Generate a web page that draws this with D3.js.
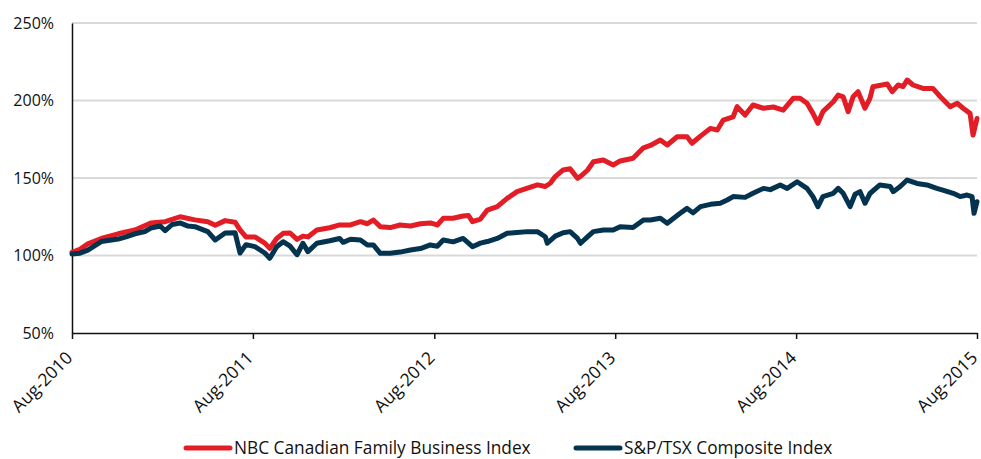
<!DOCTYPE html>
<html>
<head>
<meta charset="utf-8">
<script src="https://cdn.jsdelivr.net/npm/d3@7"></script>
<style>
  body { margin: 0; background: #fff; }
  text { font-family: "Open Sans", sans-serif; fill: #111; }
</style>
</head>
<body>
<svg id="graph"></svg>
<script>
// tick labels
var yTicks = [50, 100, 150, 200, 250]
var xTickDates = ["2010-08-01", "2011-08-01", "2012-08-01", "2013-08-01", "2014-08-01", "2015-08-01"]
var seriesNames = ["NBC Canadian Family Business Index", "S&P/TSX Composite Index"]
var seriesColors = ["#e31d26", "#03334f"]

// NBC Canadian Family Business Index (% of start)
var nbcDates = ["2010-08-01","2010-08-17","2010-09-02","2010-09-29","2010-11-02","2010-12-06","2011-01-07","2011-02-05","2011-03-07","2011-04-06","2011-05-02","2011-05-17","2011-06-06","2011-06-26","2011-07-06","2011-07-18","2011-08-05","2011-08-25","2011-09-04","2011-09-18","2011-10-01","2011-10-15","2011-10-29","2011-11-10","2011-11-20","2011-12-08","2012-01-03","2012-01-23","2012-02-14","2012-03-05","2012-03-19","2012-03-31","2012-04-14","2012-05-04","2012-05-24","2012-06-14","2012-07-04","2012-07-24","2012-08-07","2012-08-19","2012-09-08","2012-09-28","2012-10-09","2012-10-17","2012-11-02","2012-11-16","2012-12-06","2012-12-26","2013-01-15","2013-02-05","2013-02-25","2013-03-13","2013-03-23","2013-04-02","2013-04-18","2013-05-02","2013-05-17","2013-05-23","2013-06-06","2013-06-18","2013-07-08","2013-07-28","2013-08-11","2013-09-06","2013-09-27","2013-10-11","2013-10-31","2013-11-14","2013-12-04","2013-12-24","2014-01-03","2014-01-20","2014-02-09","2014-02-23","2014-03-07","2014-03-27","2014-04-04","2014-04-20","2014-05-06","2014-05-27","2014-06-16","2014-07-06","2014-07-26","2014-08-09","2014-08-23","2014-09-04","2014-09-14","2014-09-24","2014-10-15","2014-10-25","2014-11-04","2014-11-14","2014-11-24","2014-12-04","2014-12-18","2014-12-28","2015-01-03","2015-02-01","2015-02-11","2015-02-23","2015-03-05","2015-03-13","2015-03-25","2015-04-14","2015-05-04","2015-05-19","2015-06-08","2015-06-22","2015-07-04","2015-07-18","2015-07-24","2015-08-01"]
var nbcValues = [102,104,107.5,111,114,116.5,121,121.8,125,123,121.8,119.5,122.5,121.5,116.5,112,112,108,104.6,111,114.3,114.5,110.4,112.5,112,116.4,117.9,119.7,119.7,121.8,120.5,122.9,118.6,118,119.7,119,120.5,121,119.7,124,124,125.5,125.8,121.8,123.5,129.3,131.5,136.9,141.2,143.4,145.6,144.5,146.6,150.9,155.2,156,149.8,151,155,160.5,161.6,158.4,161,162.7,169.5,171,174.5,171.3,176.6,176.6,172.4,177,182,181,187.4,189.5,196,190.6,197.1,195,195.8,193.8,201.4,201.4,198.2,191.7,185.3,192.8,199.2,203.5,202.4,192.8,202.4,205.7,195,201.4,208.9,210.6,205.7,210,209,213.2,210,207.8,207.8,202.4,196,198.2,195,191.7,177.7,188.4]

// S&P/TSX Composite Index (% of start)
var tsxDates = ["2010-08-01","2010-08-17","2010-09-02","2010-09-29","2010-11-02","2010-11-18","2010-12-06","2010-12-26","2011-01-07","2011-01-26","2011-02-05","2011-02-19","2011-03-07","2011-03-23","2011-04-06","2011-05-02","2011-05-17","2011-06-06","2011-06-26","2011-07-06","2011-07-18","2011-08-05","2011-08-25","2011-09-04","2011-09-18","2011-10-01","2011-10-15","2011-10-29","2011-11-10","2011-11-20","2011-12-08","2012-01-03","2012-01-23","2012-01-30","2012-02-14","2012-03-05","2012-03-19","2012-03-31","2012-04-14","2012-05-04","2012-05-24","2012-06-14","2012-07-04","2012-07-24","2012-08-07","2012-08-19","2012-09-08","2012-09-28","2012-10-09","2012-10-17","2012-11-02","2012-11-16","2012-12-06","2012-12-26","2013-01-15","2013-02-05","2013-02-25","2013-03-13","2013-03-17","2013-04-02","2013-04-18","2013-05-02","2013-05-17","2013-05-23","2013-06-06","2013-06-18","2013-07-08","2013-07-28","2013-08-11","2013-09-06","2013-09-27","2013-10-11","2013-10-31","2013-11-14","2013-12-10","2013-12-24","2014-01-05","2014-01-20","2014-02-09","2014-03-01","2014-03-15","2014-03-27","2014-04-20","2014-05-06","2014-05-27","2014-06-10","2014-06-30","2014-07-14","2014-08-03","2014-08-23","2014-09-04","2014-09-14","2014-09-24","2014-10-15","2014-10-25","2014-11-04","2014-11-18","2014-11-28","2014-12-08","2014-12-18","2014-12-28","2015-01-17","2015-02-07","2015-02-13","2015-02-27","2015-03-13","2015-04-02","2015-04-22","2015-05-12","2015-05-24","2015-06-14","2015-06-28","2015-07-12","2015-07-22","2015-07-26","2015-08-01"]
var tsxValues = [101,101.5,103.5,109,110.6,112,114,115.5,117.7,119,116,120,121,119,118.6,115.4,110,114.5,114.7,101.6,107,105.7,101.6,98.2,105.7,108.9,106,100.5,107.9,102.5,107.9,109.5,111,108.5,110.5,110,106.8,106.8,101.4,101.4,102.2,103.5,104.5,106.8,106,110,108.8,111,108,105.7,108,109,111,114.3,114.8,115.4,115.4,112.1,107.9,112.5,114.7,115.4,111,107.9,112,115.4,116.4,116.4,118.6,118,122.9,122.9,124,120.8,127.2,130.4,127.5,131.5,133,133.7,135.8,138,137.5,140.1,143.3,142.5,145.5,143.3,147.6,143.3,138,131.5,138,140.1,143.3,140.1,131.5,139.5,141.2,133.7,140,145.5,144.5,141.2,144.5,148.7,146.5,145.5,143.3,142.2,140.1,138,139,138,127.2,134.7]

var parseDate = d3.timeParse("%Y-%m-%d")
var fmtDate = d3.timeFormat("%b-%Y")

var screen = {width: 981, height: 459}
var margin = {left: 72, right: 4, top: 23, bottom: 126}

var svg = d3.select("#graph")
    .attr("width", screen.width)
    .attr("height", screen.height)

var xScale = d3.scaleTime()
    .domain([parseDate(xTickDates[0]), parseDate(xTickDates[xTickDates.length - 1])])
    .range([margin.left, screen.width - margin.right])
var yScale = d3.scaleLinear()
    .domain([50, 250])
    .range([screen.height - margin.bottom, margin.top])

// gridlines
svg.append("g")
    .selectAll("line")
    .data(yTicks.slice(1))
    .enter()
    .append("line")
    .attr("x1", margin.left)
    .attr("x2", screen.width - margin.right)
    .attr("y1", function (d) { return yScale(d) })
    .attr("y2", function (d) { return yScale(d) })
    .attr("stroke", "#d9d9d9")
    .attr("stroke-width", 2)

// y axis labels (no ticks)
var yAxis = svg.append("g")
    .attr("transform", "translate(" + margin.left + ",0)")
    .call(d3.axisLeft(yScale).tickValues(yTicks).tickSize(0).tickPadding(18).tickFormat(function (d) { return d + "%" }))
yAxis.select(".domain").attr("stroke", "#111").attr("stroke-width", 1.5)
yAxis.selectAll("text").style("font-size", "16px").style("font-family", "Open Sans, sans-serif").attr("fill", "#111")

// x axis
var xAxis = svg.append("g")
    .attr("transform", "translate(0," + yScale(50) + ")")
    .call(d3.axisBottom(xScale).tickValues(xTickDates.map(parseDate)).tickSize(6).tickSizeOuter(0).tickFormat(fmtDate))
xAxis.select(".domain").attr("stroke", "#111").attr("stroke-width", 1.5)
xAxis.selectAll(".tick line").attr("stroke", "#111").attr("stroke-width", 1.5)
xAxis.selectAll("text")
    .style("font-size", "17.5px")
    .style("font-family", "Open Sans, sans-serif")
    .attr("fill", "#111")
    .attr("text-anchor", "end")
    .attr("dy", 0)
    .attr("y", 0)
    .attr("x", 0)
    .attr("transform", "translate(1,26) rotate(-45)")

// lines
var series = [
    nbcDates.map(function (d, i) { return {date: parseDate(d), value: nbcValues[i]} }),
    tsxDates.map(function (d, i) { return {date: parseDate(d), value: tsxValues[i]} })
]
var line = d3.line()
    .x(function (d) { return xScale(d.date) })
    .y(function (d) { return yScale(d.value) })

svg.append("g")
    .selectAll("path")
    .data(series)
    .enter()
    .append("path")
    .attr("d", line)
    .attr("fill", "none")
    .attr("stroke", function (d, i) { return seriesColors[i] })
    .attr("stroke-width", 5)
    .attr("stroke-linejoin", "round")
    .attr("stroke-linecap", "round")

// legend
var legendX = [186, 576]
var legend = svg.append("g")
    .selectAll("g")
    .data(seriesNames)
    .enter()
    .append("g")
    .attr("transform", function (d, i) { return "translate(" + legendX[i] + ",448)" })
legend.append("line")
    .attr("x1", 0).attr("x2", 44)
    .attr("stroke", function (d, i) { return seriesColors[i] })
    .attr("stroke-width", 5)
    .attr("stroke-linecap", "round")
legend.append("text")
    .attr("x", 48)
    .attr("dy", "0.35em")
    .style("font-size", "17.3px")
    .text(function (d) { return d })
</script>
</body>
</html>
